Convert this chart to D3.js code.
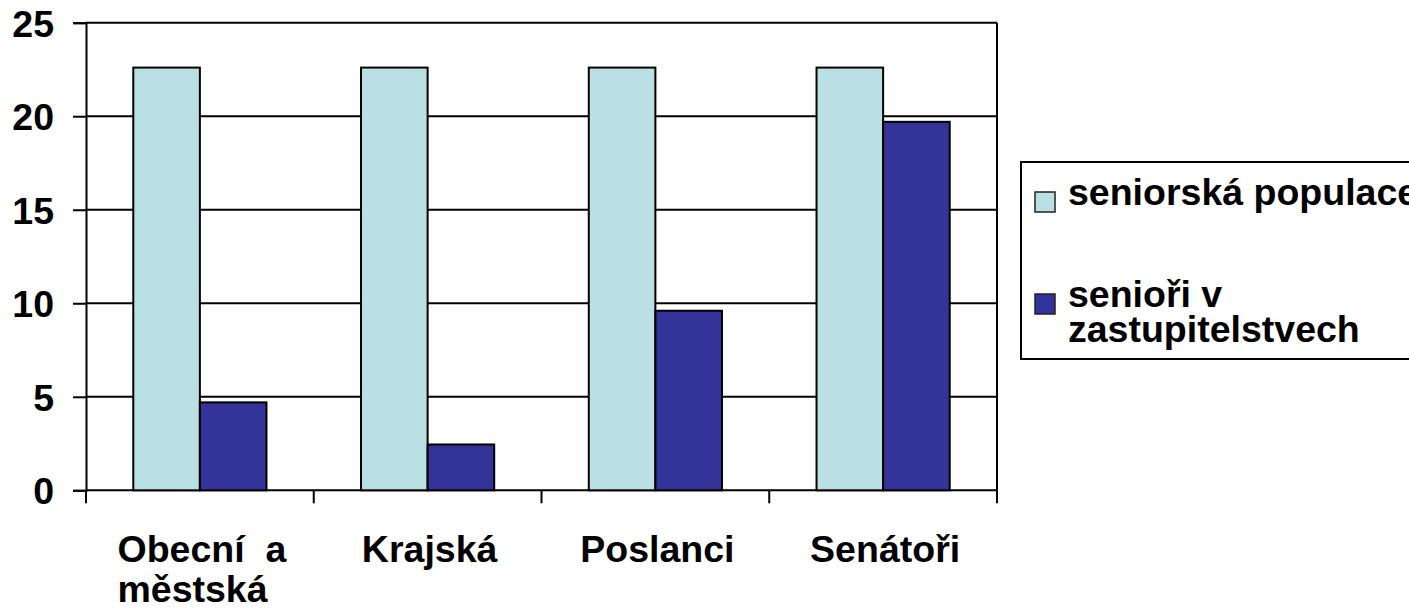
<!DOCTYPE html>
<html>
<head>
<meta charset="utf-8">
<script src="https://cdn.jsdelivr.net/npm/d3@7"></script>
<style>
    body { margin: 0; background: #fff; }
    text { font-family: "Liberation Sans", Arial, sans-serif; font-weight: bold; fill: #000; white-space: pre; }
</style>
</head>
<body>
<script>
(function(){

    //chart data
    var categories = ["Obecní  a\nměstská", "Krajská", "Poslanci", "Senátoři"];
    var seriesNames = ["seniorská populace", "senioři v\nzastupitelstvech"];
    var seniorPopulation = [22.6, 22.6, 22.6, 22.6];
    var seniorRepresentatives = [4.7, 2.45, 9.6, 19.7];
    var yTicks = [0, 5, 10, 15, 20, 25];
    var colors = ["#bbe0e3", "#333399"];

    window.onload = setChart();

    function setChart(){
        var width = 1409, height = 613;
        var left = 86, right = 997, top = 22.7, bottom = 490.3;
        var fontSize = 37.5;

        var svg = d3.select("body")
            .append("svg")
            .attr("width", width)
            .attr("height", height);

        //scales
        var yScale = d3.scaleLinear()
            .domain([0, 25])
            .range([bottom, top]);

        var x0 = d3.scaleBand()
            .domain(categories)
            .range([left, right])
            .padding(0);

        var x1 = d3.scaleBand()
            .domain([0, 1])
            .range([0, x0.bandwidth()])
            .paddingInner(0)
            .paddingOuter(0.71);

        //gridlines
        svg.selectAll(".grid")
            .data(yTicks)
            .enter()
            .append("line")
            .attr("x1", left)
            .attr("x2", right)
            .attr("y1", function(d){ return yScale(d); })
            .attr("y2", function(d){ return yScale(d); })
            .attr("stroke", "#000")
            .attr("stroke-width", 2);

        //right border of plot area
        svg.append("line")
            .attr("x1", right).attr("x2", right)
            .attr("y1", top).attr("y2", bottom)
            .attr("stroke", "#000")
            .attr("stroke-width", 2);

        //bars
        var rows = categories.map(function(c, i){
            return { cat: c, values: [seniorPopulation[i], seniorRepresentatives[i]] };
        });

        var groups = svg.selectAll(".group")
            .data(rows)
            .enter()
            .append("g")
            .attr("transform", function(d){ return "translate(" + x0(d.cat) + ",0)"; });

        groups.selectAll("rect")
            .data(function(d){ return d.values; })
            .enter()
            .append("rect")
            .attr("x", function(d, i){ return x1(i); })
            .attr("width", x1.bandwidth())
            .attr("y", function(d){ return yScale(d); })
            .attr("height", function(d){ return bottom - yScale(d); })
            .attr("fill", function(d, i){ return colors[i]; })
            .attr("stroke", "#000")
            .attr("stroke-width", 2);

        //y axis
        var yAxis = d3.axisLeft(yScale)
            .tickValues(yTicks)
            .tickSize(13)
            .tickPadding(19);

        var yg = svg.append("g")
            .attr("transform", "translate(" + left + ",0)")
            .call(yAxis);
        yg.select(".domain").attr("stroke-width", 2);
        yg.selectAll(".tick line").attr("stroke-width", 2);
        yg.selectAll(".tick text")
            .attr("font-size", fontSize)
            .style("font-family", "'Liberation Sans', Arial, sans-serif")
            .style("font-weight", "bold")
            .attr("dy", "0.36em");

        //x axis: ticks at category boundaries
        var boundaries = categories.map(function(c){ return x0(c); }).concat([right]);
        svg.selectAll(".xtick")
            .data(boundaries)
            .enter()
            .append("line")
            .attr("x1", function(d){ return d; })
            .attr("x2", function(d){ return d; })
            .attr("y1", bottom)
            .attr("y2", bottom + 13)
            .attr("stroke", "#000")
            .attr("stroke-width", 2);

        //category labels, lines left aligned inside a centred block
        var labels = svg.selectAll(".catLabel")
            .data(categories)
            .enter()
            .append("text")
            .attr("font-size", fontSize);

        labels.selectAll("tspan")
            .data(function(d){ return d.split("\n"); })
            .enter()
            .append("tspan")
            .attr("x", 0)
            .attr("y", function(d, i){ return i * 40; })
            .text(function(d){ return d; });

        labels.each(function(d){
            var maxW = 0;
            d3.select(this).selectAll("tspan").each(function(){
                maxW = Math.max(maxW, this.getComputedTextLength());
            });
            var cx = x0(d) + x0.bandwidth() / 2 + 2;
            d3.select(this).attr("transform", "translate(" + (cx - maxW / 2) + ",562)");
        });

        //legend
        var legend = svg.append("g");
        legend.append("rect")
            .attr("x", 1021)
            .attr("y", 162)
            .attr("width", 420)
            .attr("height", 197)
            .attr("fill", "#fff")
            .attr("stroke", "#000")
            .attr("stroke-width", 2);

        var swatchY = [192, 294];
        seriesNames.forEach(function(name, i){
            legend.append("rect")
                .attr("x", 1035)
                .attr("y", swatchY[i])
                .attr("width", 20)
                .attr("height", 20)
                .attr("fill", colors[i])
                .attr("stroke", "#222")
                .attr("stroke-width", 1.5);

            var t = legend.append("text")
                .attr("font-size", fontSize)
                .attr("transform", "translate(1068," + (swatchY[i] + 13) + ")");
            t.selectAll("tspan")
                .data(name.split("\n"))
                .enter()
                .append("tspan")
                .attr("x", 0)
                .attr("y", function(d, j){ return j * 35; })
                .text(function(d){ return d; });
        });
    };

})();
</script>
</body>
</html>
